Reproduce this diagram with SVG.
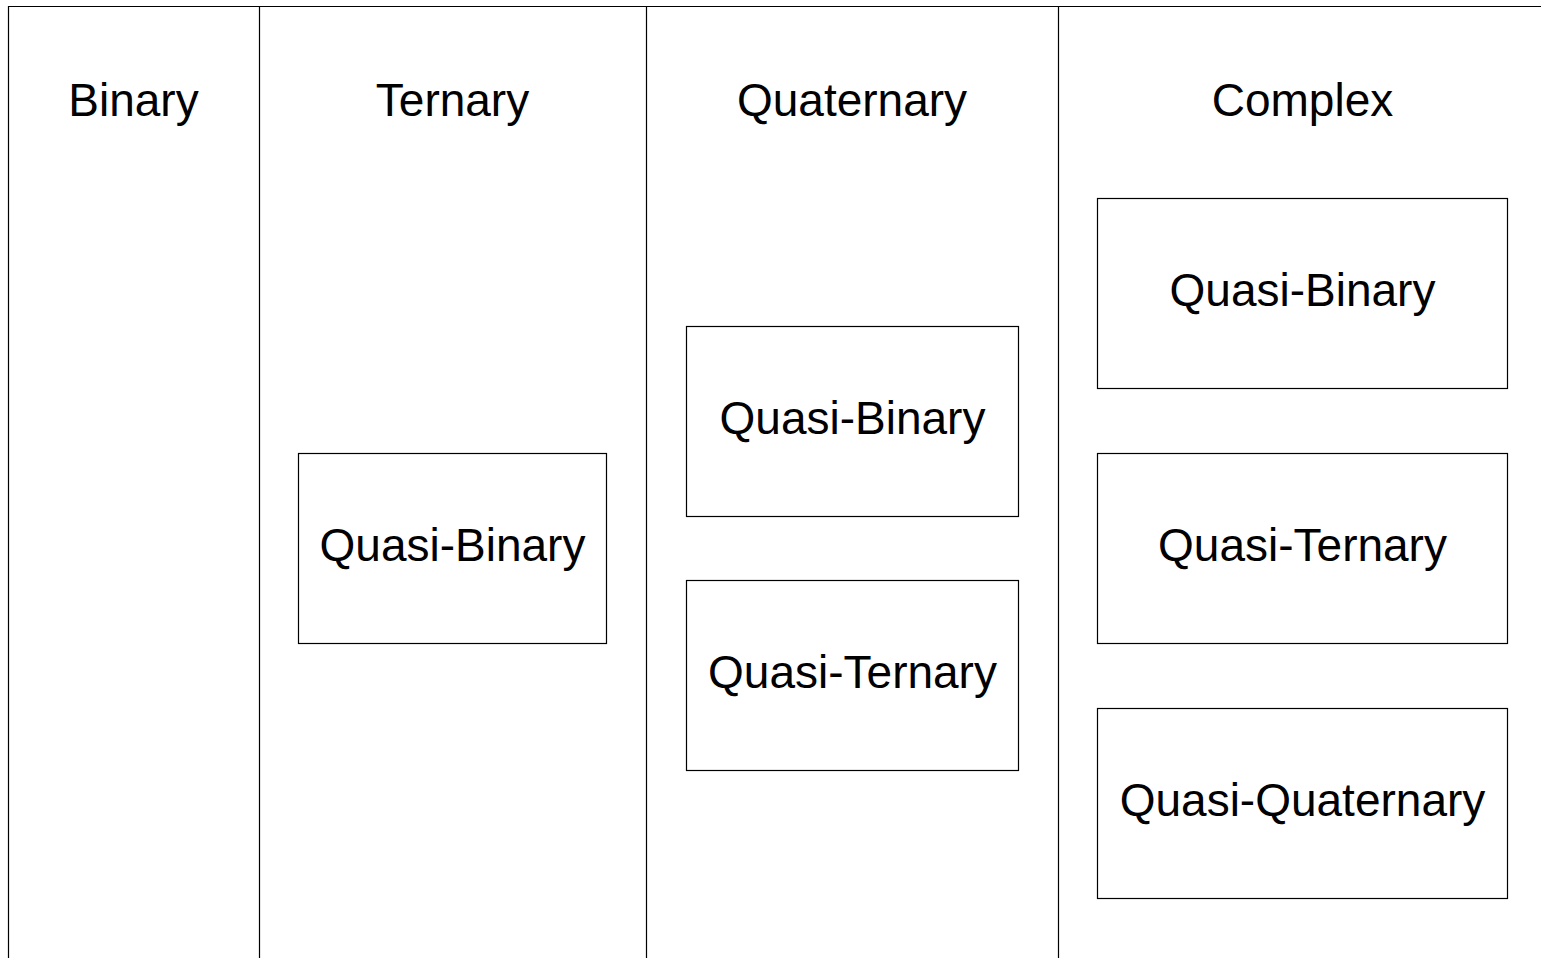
<svg xmlns="http://www.w3.org/2000/svg" width="1541" height="958" viewBox="0 0 1541 958">
<style>
.line{stroke:#000;stroke-width:1.2;fill:none}
.box{fill:#fff;stroke:#000;stroke-width:1.2}
.t{font-family:"Liberation Sans",Arial,sans-serif;font-size:46px;fill:#000;text-anchor:middle}
</style>
<rect width="1541" height="958" fill="#fff"/>
<g id="grid">
<line class="line" x1="8" y1="6.5" x2="1541" y2="6.5"/>
<line class="line" x1="8.5" y1="6" x2="8.5" y2="958"/>
<line class="line" x1="259.5" y1="6" x2="259.5" y2="958"/>
<line class="line" x1="646.5" y1="6" x2="646.5" y2="958"/>
<line class="line" x1="1058.5" y1="6" x2="1058.5" y2="958"/>
</g>
<g id="h-binary"><text class="t" x="133.5" y="116">Binary</text></g>
<g id="h-ternary"><text class="t" x="452.5" y="116">Ternary</text></g>
<g id="h-quaternary"><text class="t" x="852" y="116">Quaternary</text></g>
<g id="h-complex"><text class="t" x="1302.5" y="116">Complex</text></g>
<g id="ternary-qb"><rect class="box" x="298.5" y="453.5" width="308" height="190"/><text class="t" x="452.5" y="561">Quasi-Binary</text></g>
<g id="quaternary-qb"><rect class="box" x="686.5" y="326.5" width="332" height="190"/><text class="t" x="852.5" y="434">Quasi-Binary</text></g>
<g id="quaternary-qt"><rect class="box" x="686.5" y="580.5" width="332" height="190"/><text class="t" x="852.5" y="688">Quasi-Ternary</text></g>
<g id="complex-qb"><rect class="box" x="1097.5" y="198.5" width="410" height="190"/><text class="t" x="1302.5" y="306">Quasi-Binary</text></g>
<g id="complex-qt"><rect class="box" x="1097.5" y="453.5" width="410" height="190"/><text class="t" x="1302.5" y="561">Quasi-Ternary</text></g>
<g id="complex-qq"><rect class="box" x="1097.5" y="708.5" width="410" height="190"/><text class="t" x="1302.5" y="816">Quasi-Quaternary</text></g>
<g id="connectors"></g>
</svg>
